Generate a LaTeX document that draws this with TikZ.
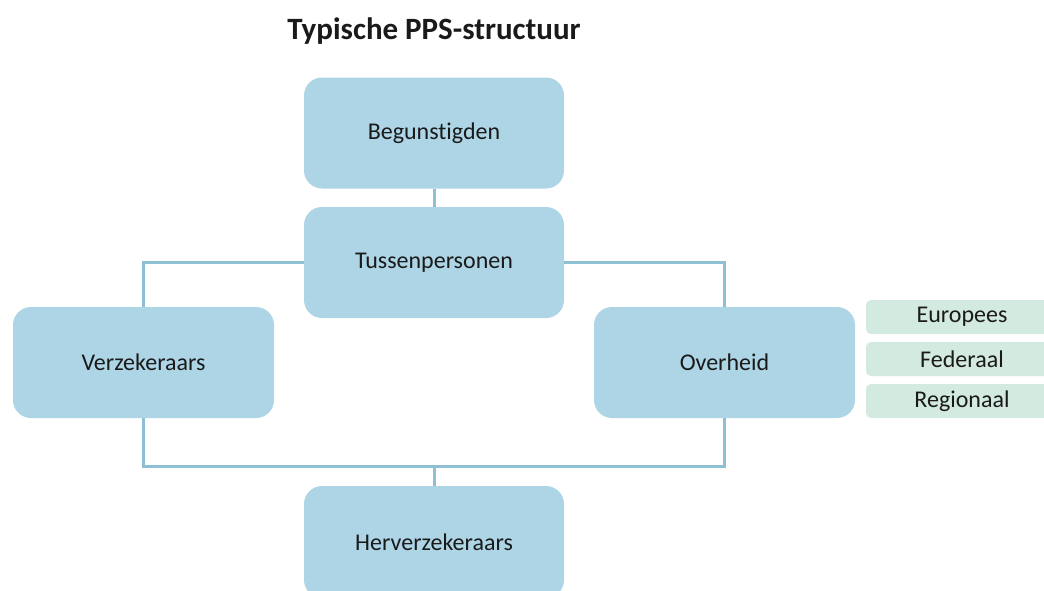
\documentclass[tikz,border=0pt]{standalone}
\usepackage{fontspec}
\setmainfont{Carlito}[Ligatures=NoCommon]
\definecolor{boxblue}{HTML}{ADD5E6}
\definecolor{lineblue}{HTML}{8CC0D2}
\definecolor{boxgreen}{HTML}{D2EADF}
\definecolor{txt}{HTML}{1A1A1A}
\begin{document}
\begin{tikzpicture}[x=1pt,y=-1pt,
  bluebox/.style={fill=boxblue,draw=none,rounded corners=18pt,minimum width=260pt,minimum height=111pt,inner sep=0pt,font=\fontsize{24}{28}\selectfont,text=txt},
  greenbox/.style={fill=boxgreen,draw=none,rounded corners=5pt,minimum width=192pt,minimum height=34pt,inner sep=0pt,font=\fontsize{24}{28}\selectfont,text=txt},
  link/.style={draw=lineblue,line width=3pt}]
\useasboundingbox (0,0) rectangle (1044,590);
\clip (0,0) rectangle (1044,590);
\node[font=\bfseries\fontsize{31}{36}\selectfont,text=txt] (title) at (434,31) {Typische PPS-structuur};
\node[bluebox] (beg) at (434,133) {Begunstigden};
\node[bluebox] (tus) at (434,262.5) {Tussenpersonen};
\node[bluebox,minimum width=261pt] (ver) at (143.5,362.5) {Verzekeraars};
\node[bluebox,minimum width=261pt] (ove) at (724.5,362.5) {Overheid};
\node[bluebox,minimum height=112pt] (her) at (434,542) {Herverzekeraars};
\node[greenbox] (eur) at (962,317) {Europees};
\node[greenbox] (fed) at (962,359) {Federaal};
\node[greenbox] (reg) at (962,401) {Regionaal};
\coordinate (j) at (434,466);
\draw[link] (beg.south) -- (tus.north);
\draw[link] (tus.west) -| (ver.north);
\draw[link] (tus.east) -| (ove.north);
\draw[link] (ver.south) |- (j) -| (ove.south);
\draw[link] (j) -- (her.north);
\end{tikzpicture}
\end{document}
